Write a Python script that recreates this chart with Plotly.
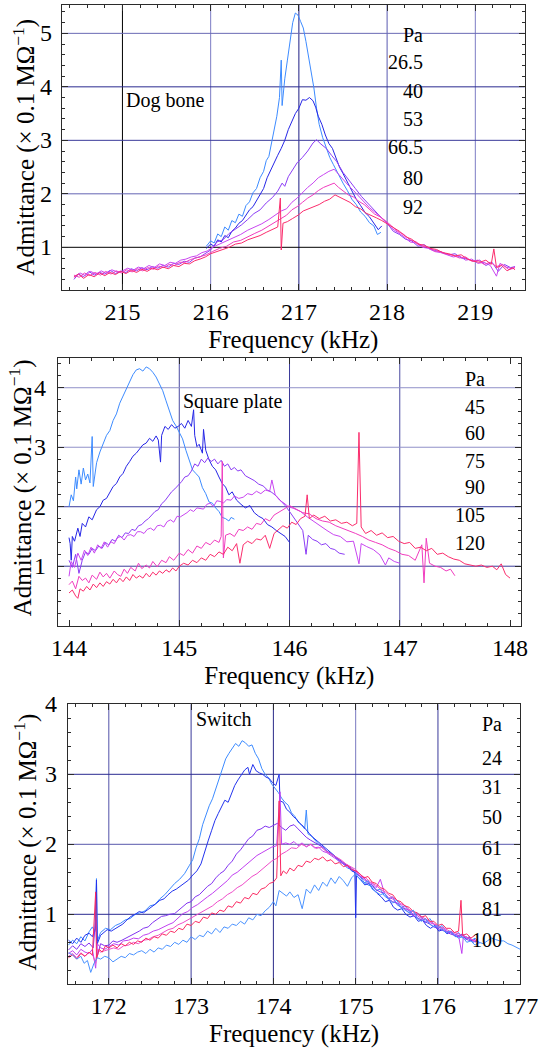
import plotly.graph_objects as go

FONT = "Liberation Serif"

# ---------------- Dog bone resonator ----------------
DOG_PRESSURES = ["26.5", "40", "53", "66.5", "80", "92"]
DOG_26_5 = [(215.95,1.02),(216.0,1.12),(216.04,1.08),(216.08,1.25),(216.12,1.2),(216.16,1.38),(216.2,1.32),(216.24,1.5),(216.28,1.46),(216.32,1.62),(216.36,1.58),(216.4,1.78),(216.44,1.85),(216.48,2.02),(216.52,2.1),(216.56,2.3),(216.6,2.42),(216.63,2.62),(216.66,2.7),(216.69,2.95),(216.72,3.25),(216.75,3.45),(216.78,3.8),(216.8,4.5),(216.81,3.65),(216.84,4.15),(216.87,4.5),(216.9,4.85),(216.93,5.2),(216.96,5.38),(216.99,5.34),(217.02,5.22),(217.05,5.1),(217.08,4.85),(217.11,4.55),(217.14,4.3),(217.17,3.98),(217.2,3.6),(217.23,3.3),(217.27,3.05),(217.31,2.85),(217.35,2.68),(217.39,2.55),(217.44,2.38),(217.5,2.2),(217.55,2.06),(217.6,1.9),(217.65,1.8),(217.7,1.66),(217.75,1.58),(217.8,1.46),(217.85,1.4),(217.89,1.24),(217.93,1.28)]
DOG_40 = [(215.95,0.98),(216.0,1.06),(216.04,1.02),(216.08,1.14),(216.12,1.1),(216.16,1.22),(216.2,1.18),(216.24,1.3),(216.28,1.36),(216.32,1.45),(216.36,1.5),(216.4,1.6),(216.44,1.7),(216.48,1.76),(216.52,1.88),(216.56,2.0),(216.6,2.1),(216.64,2.3),(216.68,2.45),(216.72,2.6),(216.76,2.72),(216.8,2.85),(216.84,3.0),(216.88,3.2),(216.92,3.35),(216.96,3.5),(217.0,3.6),(217.04,3.76),(217.08,3.75),(217.12,3.8),(217.16,3.74),(217.19,3.62),(217.22,3.45),(217.26,3.3),(217.3,3.1),(217.34,2.94),(217.38,2.85),(217.42,2.66),(217.46,2.5),(217.5,2.38),(217.55,2.22),(217.6,2.05),(217.65,1.9),(217.7,1.78),(217.75,1.65),(217.8,1.57),(217.85,1.46),(217.9,1.33),(217.94,1.4)]
DOG_53 = [(214.45,0.40),(214.5,0.50),(214.56,0.45),(214.62,0.55),(214.68,0.48),(214.74,0.53),(214.8,0.50),(214.86,0.57),(214.92,0.51),(214.98,0.55),(215.04,0.53),(215.1,0.60),(215.16,0.56),(215.22,0.62),(215.28,0.58),(215.34,0.64),(215.4,0.61),(215.46,0.66),(215.52,0.63),(215.58,0.70),(215.64,0.68),(215.7,0.74),(215.76,0.72),(215.82,0.80),(215.88,0.82),(215.94,0.88),(216.0,0.95),(216.07,1.10),(216.14,1.14),(216.21,1.26),(216.28,1.34),(216.35,1.42),(216.42,1.52),(216.49,1.63),(216.56,1.70),(216.63,1.83),(216.7,1.93),(216.76,2.05),(216.81,2.20),(216.84,2.14),(216.88,2.32),(216.93,2.45),(216.98,2.58),(217.04,2.68),(217.1,2.80),(217.16,2.95),(217.2,3.01),(217.25,2.93),(217.31,2.85),(217.37,2.72),(217.43,2.60),(217.5,2.40),(217.57,2.26),(217.64,2.10),(217.71,1.95),(217.78,1.82),(217.85,1.70),(217.92,1.58),(218.0,1.45),(218.07,1.30),(218.14,1.24),(218.21,1.15),(218.28,1.12),(218.35,1.02),(218.42,1.05),(218.49,0.96),(218.56,0.94),(218.63,0.90),(218.7,0.86),(218.77,0.88),(218.84,0.80),(218.91,0.78),(218.98,0.74),(219.05,0.76),(219.12,0.66),(219.19,0.72),(219.26,0.55),(219.33,0.68),(219.4,0.62),(219.45,0.64)]
DOG_66_5 = [(214.45,0.45),(214.52,0.52),(214.58,0.47),(214.64,0.55),(214.7,0.50),(214.76,0.56),(214.82,0.51),(214.88,0.58),(214.94,0.54),(215.0,0.56),(215.06,0.61),(215.12,0.57),(215.18,0.63),(215.24,0.60),(215.3,0.66),(215.36,0.62),(215.42,0.69),(215.48,0.66),(215.54,0.72),(215.6,0.70),(215.66,0.76),(215.72,0.78),(215.78,0.82),(215.84,0.84),(215.9,0.9),(215.96,0.93),(216.02,1.0),(216.1,1.06),(216.18,1.12),(216.26,1.18),(216.34,1.24),(216.42,1.32),(216.5,1.38),(216.58,1.44),(216.66,1.52),(216.74,1.62),(216.8,1.68),(216.86,1.72),(216.92,1.84),(216.98,1.92),(217.04,2.02),(217.1,2.12),(217.16,2.2),(217.22,2.3),(217.28,2.36),(217.34,2.42),(217.4,2.46),(217.44,2.38),(217.5,2.28),(217.56,2.16),(217.62,2.06),(217.68,1.95),(217.74,1.86),(217.8,1.74),(217.86,1.66),(217.92,1.58),(217.98,1.48),(218.05,1.36),(218.12,1.28),(218.19,1.2),(218.26,1.1),(218.33,1.08),(218.4,1.0),(218.47,0.98),(218.54,0.92),(218.61,0.9),(218.68,0.86),(218.75,0.82),(218.82,0.84),(218.89,0.76),(218.96,0.78),(219.03,0.70),(219.1,0.72),(219.17,0.66),(219.24,0.46),(219.28,0.70),(219.35,0.63),(219.42,0.60),(219.45,0.64)]
DOG_80 = [(214.45,0.48),(214.51,0.44),(214.57,0.52),(214.63,0.47),(214.69,0.53),(214.75,0.48),(214.81,0.55),(214.87,0.50),(214.93,0.56),(214.99,0.52),(215.05,0.58),(215.11,0.54),(215.17,0.60),(215.23,0.56),(215.29,0.62),(215.35,0.59),(215.41,0.65),(215.47,0.62),(215.53,0.68),(215.59,0.66),(215.65,0.72),(215.71,0.72),(215.77,0.77),(215.83,0.80),(215.89,0.84),(215.95,0.86),(216.02,0.92),(216.1,0.98),(216.18,1.02),(216.26,1.1),(216.34,1.13),(216.42,1.2),(216.5,1.26),(216.58,1.32),(216.66,1.4),(216.74,1.48),(216.8,1.55),(216.86,1.6),(216.92,1.7),(216.98,1.76),(217.04,1.84),(217.1,1.92),(217.16,1.98),(217.22,2.06),(217.28,2.12),(217.34,2.16),(217.4,2.2),(217.45,2.12),(217.5,2.06),(217.56,1.98),(217.62,1.94),(217.68,1.86),(217.74,1.8),(217.8,1.7),(217.86,1.62),(217.92,1.57),(217.98,1.5),(218.05,1.4),(218.12,1.3),(218.19,1.24),(218.26,1.14),(218.33,1.1),(218.4,1.02),(218.47,1.0),(218.54,0.93),(218.61,0.92),(218.68,0.87),(218.75,0.85),(218.82,0.8),(218.89,0.82),(218.96,0.74),(219.03,0.76),(219.1,0.68),(219.17,0.72),(219.24,0.64),(219.31,0.68),(219.38,0.58),(219.45,0.62)]
DOG_92 = [(214.45,0.44),(214.5,0.50),(214.56,0.42),(214.62,0.49),(214.68,0.45),(214.74,0.52),(214.8,0.47),(214.86,0.53),(214.92,0.49),(214.98,0.55),(215.04,0.51),(215.1,0.57),(215.16,0.53),(215.22,0.59),(215.28,0.55),(215.34,0.61),(215.4,0.58),(215.46,0.63),(215.52,0.60),(215.58,0.66),(215.64,0.64),(215.7,0.70),(215.76,0.69),(215.82,0.75),(215.88,0.78),(215.94,0.82),(216.0,0.88),(216.07,0.92),(216.14,0.97),(216.21,1.0),(216.28,1.06),(216.35,1.08),(216.42,1.14),(216.49,1.18),(216.56,1.22),(216.63,1.28),(216.7,1.33),(216.76,1.38),(216.79,1.92),(216.8,0.95),(216.82,1.45),(216.87,1.48),(216.93,1.54),(216.99,1.6),(217.05,1.68),(217.11,1.72),(217.17,1.76),(217.23,1.8),(217.29,1.86),(217.35,1.9),(217.41,1.98),(217.46,1.94),(217.52,1.88),(217.58,1.84),(217.64,1.76),(217.7,1.72),(217.76,1.64),(217.82,1.6),(217.88,1.55),(217.94,1.5),(218.0,1.44),(218.07,1.36),(218.14,1.3),(218.21,1.2),(218.28,1.15),(218.35,1.06),(218.42,1.04),(218.49,0.98),(218.56,0.96),(218.63,0.9),(218.7,0.88),(218.77,0.84),(218.84,0.86),(218.91,0.78),(218.98,0.74),(219.05,0.72),(219.12,0.76),(219.18,0.68),(219.21,0.97),(219.24,0.62),(219.3,0.66),(219.36,0.56),(219.42,0.62),(219.45,0.58)]

# ---------------- Square plate resonator ----------------
SQ_PRESSURES = ["45", "60", "75", "90", "105", "120"]
SQ_45 = [(144.0,2.0),(144.02,2.2),(144.04,2.1),(144.06,2.5),(144.07,2.3),(144.09,2.62),(144.11,2.38),(144.13,2.65),(144.15,2.45),(144.17,2.55),(144.19,2.4),(144.21,3.18),(144.22,2.34),(144.25,2.74),(144.28,2.92),(144.31,3.05),(144.34,3.2),(144.37,3.28),(144.4,3.45),(144.43,3.56),(144.46,3.74),(144.49,3.86),(144.52,3.98),(144.55,4.12),(144.58,4.22),(144.61,4.3),(144.64,4.32),(144.67,4.28),(144.7,4.35),(144.73,4.32),(144.76,4.26),(144.79,4.18),(144.82,4.06),(144.85,3.95),(144.88,3.78),(144.91,3.62),(144.94,3.45),(144.97,3.36),(145.0,3.25),(145.03,3.14),(145.06,2.95),(145.09,2.78),(145.12,2.62),(145.15,2.56),(145.18,2.5),(145.21,2.32),(145.24,2.22),(145.27,2.08),(145.3,2.06),(145.33,1.98),(145.36,1.92),(145.39,1.82),(145.42,1.8),(145.45,1.76),(145.47,1.82),(145.5,1.79)]
SQ_60 = [(144.0,1.48),(144.01,1.38),(144.02,1.1),(144.03,1.5),(144.05,1.42),(144.08,1.64),(144.1,1.5),(144.12,1.72),(144.15,1.66),(144.18,1.83),(144.21,1.78),(144.25,1.95),(144.28,2.0),(144.31,2.11),(144.34,2.14),(144.37,2.25),(144.4,2.34),(144.43,2.39),(144.46,2.5),(144.49,2.56),(144.52,2.68),(144.55,2.76),(144.58,2.85),(144.61,2.9),(144.64,2.98),(144.67,3.04),(144.7,3.07),(144.73,3.15),(144.76,3.1),(144.79,3.19),(144.81,3.12),(144.83,2.75),(144.84,3.2),(144.87,3.35),(144.9,3.3),(144.93,3.38),(144.96,3.32),(144.99,3.35),(145.02,3.4),(145.05,3.32),(145.08,3.45),(145.11,3.35),(145.13,3.63),(145.14,3.2),(145.16,3.01),(145.18,3.05),(145.21,2.9),(145.22,3.3),(145.24,2.95),(145.27,2.79),(145.3,2.68),(145.33,2.62),(145.36,2.5),(145.39,2.39),(145.42,2.33),(145.45,2.2),(145.48,2.25),(145.52,2.11),(145.56,2.04),(145.6,1.98),(145.64,2.02),(145.68,1.9),(145.72,1.84),(145.76,1.8),(145.8,1.7),(145.84,1.66),(145.88,1.6),(145.92,1.55),(145.96,1.5),(146.0,1.4)]
SQ_75 = [(144.0,1.1),(144.03,0.98),(144.06,1.2),(144.09,0.88),(144.12,1.1),(144.15,1.24),(144.18,1.2),(144.21,1.3),(144.24,1.26),(144.27,1.34),(144.3,1.3),(144.33,1.4),(144.36,1.36),(144.39,1.45),(144.42,1.42),(144.45,1.52),(144.48,1.48),(144.51,1.56),(144.54,1.55),(144.57,1.62),(144.6,1.6),(144.63,1.68),(144.66,1.7),(144.69,1.76),(144.72,1.8),(144.75,1.86),(144.78,1.92),(144.81,1.95),(144.84,2.05),(144.87,2.1),(144.9,2.18),(144.93,2.25),(144.96,2.3),(144.99,2.36),(145.02,2.42),(145.05,2.5),(145.08,2.52),(145.11,2.6),(145.14,2.72),(145.17,2.68),(145.2,2.8),(145.23,2.74),(145.26,2.82),(145.29,2.76),(145.32,2.8),(145.35,2.72),(145.38,2.78),(145.41,2.68),(145.44,2.72),(145.47,2.62),(145.5,2.66),(145.53,2.6),(145.56,2.62),(145.6,2.52),(145.64,2.48),(145.68,2.44),(145.72,2.38),(145.76,2.35),(145.8,2.28),(145.84,2.24),(145.88,2.18),(145.92,2.1),(145.96,2.02),(146.0,1.92),(146.04,1.82),(146.08,1.7),(146.12,1.6),(146.15,1.2),(146.17,1.52),(146.21,1.45),(146.25,1.42),(146.29,1.36),(146.33,1.38),(146.37,1.3),(146.41,1.28),(146.45,1.22),(146.5,1.2)]
SQ_90 = [(144.0,0.83),(144.02,1.08),(144.05,0.98),(144.08,1.22),(144.11,1.1),(144.14,1.27),(144.17,1.18),(144.2,1.32),(144.23,1.22),(144.26,1.36),(144.29,1.3),(144.32,1.41),(144.35,1.32),(144.38,1.41),(144.41,1.38),(144.44,1.48),(144.47,1.5),(144.5,1.44),(144.53,1.52),(144.56,1.53),(144.59,1.5),(144.62,1.58),(144.65,1.58),(144.68,1.55),(144.71,1.62),(144.74,1.64),(144.77,1.6),(144.8,1.68),(144.83,1.69),(144.86,1.66),(144.89,1.75),(144.92,1.78),(144.95,1.74),(144.98,1.84),(145.01,1.83),(145.04,1.86),(145.07,1.9),(145.1,1.95),(145.13,1.92),(145.16,1.98),(145.19,1.97),(145.22,1.96),(145.25,2.04),(145.28,2.06),(145.31,2.0),(145.34,2.1),(145.37,2.09),(145.4,2.06),(145.43,2.12),(145.47,2.11),(145.5,2.18),(145.54,2.14),(145.58,2.16),(145.62,2.22),(145.66,2.2),(145.7,2.26),(145.74,2.22),(145.78,2.28),(145.82,2.26),(145.84,2.45),(145.87,2.2),(145.91,2.11),(145.95,2.06),(145.99,2.0),(146.04,1.97),(146.1,1.92),(146.16,1.83),(146.22,1.75),(146.28,1.67),(146.34,1.6),(146.4,1.53),(146.46,1.5),(146.52,1.41),(146.58,1.42),(146.63,1.04),(146.65,1.38),(146.7,1.33),(146.76,1.28),(146.82,1.19),(146.87,1.02),(146.9,1.14),(146.95,1.08),(147.0,1.05)]
SQ_105 = [(144.0,0.69),(144.03,0.75),(144.06,0.62),(144.09,0.83),(144.12,0.76),(144.15,0.8),(144.18,0.72),(144.21,0.85),(144.25,0.78),(144.28,0.9),(144.31,0.82),(144.34,0.88),(144.37,0.8),(144.41,0.92),(144.44,0.86),(144.47,0.83),(144.5,0.95),(144.53,0.88),(144.56,0.98),(144.6,0.92),(144.63,1.05),(144.66,0.96),(144.7,1.02),(144.73,0.97),(144.76,1.08),(144.8,0.99),(144.84,1.1),(144.88,1.06),(144.91,1.16),(144.95,1.1),(145.0,1.22),(145.04,1.18),(145.08,1.28),(145.12,1.22),(145.16,1.34),(145.2,1.3),(145.24,1.4),(145.28,1.36),(145.32,1.44),(145.36,1.4),(145.38,1.5),(145.39,2.76),(145.4,1.14),(145.42,1.52),(145.46,1.55),(145.5,1.5),(145.54,1.62),(145.58,1.6),(145.62,1.66),(145.66,1.62),(145.7,1.72),(145.74,1.7),(145.78,1.8),(145.82,1.76),(145.86,1.86),(145.9,1.9),(145.95,1.96),(146.0,2.02),(146.06,1.96),(146.12,1.9),(146.18,1.88),(146.24,1.8),(146.3,1.76),(146.36,1.74),(146.42,1.68),(146.48,1.64),(146.54,1.6),(146.6,1.55),(146.66,1.5),(146.72,1.44),(146.78,1.4),(146.84,1.36),(146.9,1.3),(146.96,1.26),(147.02,1.2),(147.08,1.18),(147.14,1.1),(147.2,1.36),(147.22,0.72),(147.24,1.47),(147.27,1.05),(147.32,1.0),(147.37,0.98),(147.42,0.92),(147.46,0.95),(147.5,0.84)]
SQ_120 = [(144.0,0.55),(144.03,0.6),(144.06,0.5),(144.08,0.46),(144.1,0.62),(144.13,0.58),(144.16,0.66),(144.19,0.6),(144.22,0.7),(144.25,0.64),(144.28,0.72),(144.31,0.66),(144.34,0.74),(144.37,0.7),(144.4,0.78),(144.43,0.72),(144.46,0.8),(144.49,0.74),(144.52,0.82),(144.55,0.76),(144.58,0.86),(144.61,0.8),(144.64,0.84),(144.67,0.8),(144.7,0.88),(144.73,0.82),(144.76,0.9),(144.79,0.85),(144.82,0.92),(144.85,0.88),(144.88,0.94),(144.91,0.9),(144.94,0.97),(144.97,0.92),(145.0,1.0),(145.04,1.05),(145.08,1.02),(145.12,1.1),(145.16,1.06),(145.2,1.14),(145.24,1.1),(145.28,1.2),(145.32,1.16),(145.36,1.24),(145.4,1.2),(145.44,1.32),(145.48,1.26),(145.52,1.38),(145.55,1.05),(145.58,1.36),(145.62,1.42),(145.66,1.38),(145.7,1.46),(145.74,1.44),(145.78,1.52),(145.82,1.3),(145.86,1.55),(145.9,1.62),(145.94,1.68),(145.98,1.64),(146.02,1.74),(146.06,1.7),(146.1,1.8),(146.14,1.84),(146.16,2.2),(146.18,1.8),(146.22,1.86),(146.27,1.8),(146.32,1.84),(146.37,1.76),(146.42,1.78),(146.47,1.72),(146.52,1.74),(146.57,1.68),(146.61,1.72),(146.63,3.25),(146.65,1.66),(146.69,1.55),(146.74,1.6),(146.79,1.52),(146.84,1.56),(146.89,1.48),(146.94,1.5),(146.99,1.42),(147.04,1.38),(147.09,1.4),(147.14,1.3),(147.19,1.32),(147.24,1.26),(147.29,1.3),(147.34,1.2),(147.39,1.22),(147.44,1.16),(147.49,1.12),(147.54,1.1),(147.59,1.04),(147.64,1.02),(147.69,1.0),(147.74,1.02),(147.79,0.98),(147.84,1.0),(147.88,0.94),(147.92,1.04),(147.96,0.86),(148.0,0.8)]

# ---------------- Switch resonator ----------------
SW_PRESSURES = ["24", "31", "50", "61", "68", "81", "100"]
SW_24 = [(171.51,0.56),(171.56,0.63),(171.61,0.58),(171.66,0.68),(171.71,0.62),(171.76,0.75),(171.8,0.82),(171.83,0.75),(171.85,1.51),(171.86,0.62),(171.9,0.74),(171.96,0.8),(172.02,0.78),(172.08,0.84),(172.14,0.87),(172.2,0.92),(172.26,0.94),(172.32,1.0),(172.38,1.02),(172.44,1.05),(172.5,1.12),(172.56,1.14),(172.62,1.22),(172.68,1.28),(172.74,1.36),(172.8,1.44),(172.86,1.5),(172.92,1.58),(172.98,1.7),(173.02,1.78),(173.06,1.95),(173.1,2.08),(173.14,2.28),(173.18,2.42),(173.22,2.55),(173.26,2.65),(173.3,2.8),(173.34,2.92),(173.38,3.08),(173.42,3.22),(173.46,3.3),(173.5,3.38),(173.54,3.44),(173.58,3.4),(173.62,3.48),(173.66,3.45),(173.7,3.4),(173.74,3.42),(173.78,3.3),(173.82,3.22),(173.86,3.08),(173.9,3.0),(173.94,2.95),(173.98,2.86),(174.02,2.8),(174.06,2.74),(174.1,2.66),(174.14,2.6),(174.18,2.56),(174.22,2.45),(174.26,2.4),(174.3,2.32),(174.34,2.28),(174.38,2.22),(174.4,2.49),(174.42,2.15),(174.46,2.12),(174.5,2.06),(174.55,2.0),(174.6,1.96),(174.65,1.9),(174.7,1.86),(174.75,1.82),(174.8,1.75),(174.85,1.72),(174.9,1.66),(174.95,1.64),(175.0,1.58),(175.05,1.55),(175.1,1.46),(175.15,1.42),(175.2,1.4),(175.25,1.34),(175.3,1.36),(175.35,1.26),(175.4,1.22),(175.45,1.25),(175.5,1.14),(175.55,1.1),(175.6,1.12),(175.65,1.04),(175.7,1.0),(175.75,1.02),(175.8,0.96),(175.85,0.88),(175.9,0.94),(175.95,0.86),(176.0,0.8),(176.05,0.84),(176.1,0.76),(176.15,0.74),(176.2,0.7),(176.25,0.74),(176.3,0.66),(176.35,0.68),(176.4,0.62),(176.45,0.66),(176.5,0.6)]
SW_31 = [(171.51,0.63),(171.56,0.58),(171.61,0.66),(171.66,0.6),(171.71,0.7),(171.76,0.73),(171.8,0.68),(171.84,0.8),(171.85,1.49),(171.86,0.58),(171.9,0.7),(171.94,0.74),(171.98,0.78),(172.03,0.76),(172.08,0.8),(172.12,0.82),(172.17,0.86),(172.22,0.92),(172.27,0.97),(172.32,1.0),(172.37,1.04),(172.42,1.02),(172.47,1.06),(172.52,1.1),(172.57,1.15),(172.62,1.2),(172.67,1.22),(172.72,1.28),(172.77,1.33),(172.82,1.36),(172.87,1.4),(172.92,1.44),(172.97,1.49),(173.02,1.56),(173.07,1.62),(173.12,1.72),(173.17,1.92),(173.21,2.06),(173.25,2.2),(173.29,2.34),(173.33,2.44),(173.37,2.54),(173.41,2.63),(173.45,2.6),(173.49,2.73),(173.53,2.84),(173.57,2.92),(173.61,3.0),(173.65,3.06),(173.69,3.1),(173.71,3.0),(173.75,3.14),(173.79,3.05),(173.83,3.02),(173.87,3.0),(173.91,2.96),(173.95,2.94),(173.99,2.88),(174.03,2.84),(174.07,3.0),(174.08,2.62),(174.12,2.6),(174.16,2.5),(174.2,2.46),(174.24,2.4),(174.28,2.36),(174.32,2.3),(174.36,2.26),(174.4,2.2),(174.44,2.15),(174.48,2.1),(174.52,2.06),(174.56,2.02),(174.6,1.98),(174.65,1.93),(174.7,1.88),(174.75,1.84),(174.8,1.78),(174.85,1.72),(174.9,1.7),(174.95,1.62),(174.99,1.6),(175.0,0.95),(175.01,1.55),(175.06,1.5),(175.11,1.42),(175.16,1.44),(175.21,1.36),(175.26,1.3),(175.31,1.25),(175.36,1.18),(175.41,1.2),(175.46,1.1),(175.51,1.06),(175.56,1.08),(175.61,1.0),(175.66,0.96),(175.71,0.98),(175.76,0.9),(175.81,0.92),(175.86,0.84),(175.91,0.8),(175.96,0.84),(176.01,0.76),(176.06,0.78),(176.11,0.72),(176.16,0.76),(176.21,0.68),(176.26,0.7),(176.3,0.72),(176.34,0.64),(176.38,0.68),(176.42,0.6),(176.47,0.62)]
SW_50 = [(171.51,0.49),(171.56,0.55),(171.61,0.5),(171.66,0.58),(171.71,0.54),(171.76,0.59),(171.81,0.52),(171.84,0.92),(171.86,0.4),(171.9,0.58),(171.95,0.55),(172.0,0.56),(172.05,0.62),(172.1,0.6),(172.16,0.63),(172.21,0.66),(172.26,0.7),(172.32,0.73),(172.37,0.76),(172.42,0.8),(172.48,0.82),(172.53,0.88),(172.58,0.92),(172.64,0.97),(172.69,0.98),(172.74,1.0),(172.8,1.01),(172.85,1.06),(172.9,1.1),(172.95,1.16),(173.0,1.18),(173.05,1.25),(173.1,1.28),(173.15,1.34),(173.2,1.4),(173.25,1.44),(173.3,1.52),(173.35,1.58),(173.4,1.62),(173.45,1.7),(173.5,1.76),(173.55,1.86),(173.6,1.92),(173.65,2.0),(173.7,2.08),(173.75,2.12),(173.8,2.2),(173.85,2.22),(173.9,2.26),(173.95,2.24),(174.0,2.27),(174.05,2.3),(174.1,2.24),(174.15,2.2),(174.2,2.26),(174.25,2.28),(174.3,2.22),(174.35,2.16),(174.4,2.1),(174.45,2.06),(174.5,2.03),(174.55,2.0),(174.6,1.96),(174.65,1.9),(174.7,1.87),(174.75,1.82),(174.8,1.78),(174.85,1.73),(174.9,1.7),(174.95,1.66),(175.0,1.6),(175.05,1.54),(175.1,1.5),(175.15,1.44),(175.2,1.42),(175.25,1.35),(175.3,1.32),(175.35,1.3),(175.4,1.22),(175.45,1.18),(175.5,1.16),(175.55,1.1),(175.6,1.08),(175.65,1.02),(175.7,0.98),(175.75,0.95),(175.8,0.92),(175.85,0.9),(175.9,0.86),(175.95,0.82),(176.0,0.8),(176.05,0.78),(176.1,0.75),(176.15,0.72),(176.2,0.7),(176.25,0.68),(176.3,0.7),(176.35,0.64),(176.4,0.62),(176.45,0.64),(176.5,0.58)]
SW_61 = [(171.51,0.44),(171.56,0.48),(171.61,0.42),(171.66,0.5),(171.71,0.46),(171.76,0.44),(171.8,0.5),(171.84,0.23),(171.86,0.58),(171.9,0.52),(171.95,0.5),(172.0,0.54),(172.06,0.58),(172.12,0.56),(172.18,0.62),(172.24,0.63),(172.3,0.66),(172.36,0.65),(172.42,0.7),(172.48,0.72),(172.54,0.76),(172.6,0.78),(172.66,0.82),(172.72,0.85),(172.78,0.88),(172.84,0.95),(172.9,1.01),(172.96,1.04),(173.02,1.1),(173.08,1.14),(173.14,1.2),(173.2,1.25),(173.26,1.3),(173.32,1.36),(173.38,1.42),(173.44,1.48),(173.5,1.56),(173.56,1.6),(173.62,1.66),(173.68,1.72),(173.74,1.78),(173.8,1.84),(173.86,1.88),(173.92,1.92),(173.98,1.96),(174.04,1.98),(174.08,2.75),(174.1,2.0),(174.15,2.02),(174.2,2.0),(174.25,2.04),(174.3,1.98),(174.35,2.02),(174.4,1.96),(174.45,2.0),(174.5,1.95),(174.55,1.96),(174.6,1.9),(174.65,1.88),(174.7,1.84),(174.75,1.8),(174.8,1.76),(174.85,1.72),(174.9,1.68),(174.95,1.64),(175.0,1.62),(175.05,1.55),(175.1,1.52),(175.15,1.46),(175.2,1.44),(175.25,1.38),(175.3,1.5),(175.35,1.3),(175.4,1.24),(175.45,1.22),(175.5,1.16),(175.55,1.14),(175.6,1.08),(175.65,1.06),(175.7,1.0),(175.75,0.98),(175.8,0.94),(175.85,0.92),(175.9,0.88),(175.95,0.86),(176.0,0.82),(176.05,0.8),(176.1,0.76),(176.15,0.74),(176.2,0.72),(176.25,0.7),(176.29,0.44),(176.31,0.7),(176.36,0.66),(176.41,0.64),(176.46,0.6)]
SW_68 = [(171.51,0.4),(171.56,0.44),(171.61,0.38),(171.66,0.45),(171.71,0.4),(171.76,0.46),(171.81,0.4),(171.84,0.3),(171.86,0.5),(171.9,0.46),(171.95,0.48),(172.0,0.5),(172.06,0.52),(172.12,0.5),(172.18,0.55),(172.24,0.56),(172.3,0.6),(172.36,0.58),(172.42,0.63),(172.48,0.64),(172.54,0.68),(172.6,0.7),(172.66,0.74),(172.72,0.78),(172.78,0.8),(172.84,0.85),(172.9,0.88),(172.96,0.92),(173.02,0.95),(173.08,1.0),(173.14,1.03),(173.2,1.08),(173.26,1.12),(173.32,1.18),(173.38,1.22),(173.44,1.28),(173.5,1.32),(173.56,1.38),(173.62,1.42),(173.68,1.48),(173.74,1.54),(173.8,1.58),(173.86,1.64),(173.92,1.7),(173.98,1.76),(174.04,1.8),(174.1,1.86),(174.16,1.9),(174.22,1.95),(174.28,1.94),(174.34,2.0),(174.4,1.97),(174.46,2.0),(174.52,1.94),(174.58,1.96),(174.64,1.9),(174.7,1.86),(174.76,1.82),(174.82,1.78),(174.88,1.72),(174.94,1.68),(175.0,1.64),(175.06,1.56),(175.12,1.52),(175.18,1.46),(175.24,1.42),(175.3,1.36),(175.36,1.32),(175.42,1.26),(175.48,1.22),(175.54,1.16),(175.6,1.12),(175.66,1.06),(175.72,1.02),(175.78,0.98),(175.84,0.94),(175.9,0.9),(175.96,0.86),(176.02,0.82),(176.08,0.8),(176.14,0.76),(176.2,0.74),(176.26,0.72),(176.32,0.68),(176.38,0.66),(176.44,0.62),(176.48,0.64)]
SW_81 = [(171.51,0.38),(171.56,0.42),(171.61,0.36),(171.66,0.44),(171.71,0.4),(171.76,0.46),(171.8,0.42),(171.84,1.32),(171.85,0.35),(171.88,0.5),(171.92,0.46),(171.96,0.55),(172.0,0.52),(172.05,0.56),(172.1,0.52),(172.15,0.58),(172.2,0.55),(172.25,0.6),(172.3,0.57),(172.35,0.62),(172.4,0.6),(172.45,0.66),(172.5,0.63),(172.55,0.68),(172.6,0.66),(172.65,0.72),(172.7,0.7),(172.75,0.76),(172.8,0.74),(172.85,0.8),(172.9,0.78),(172.95,0.86),(173.0,0.84),(173.05,0.9),(173.1,0.88),(173.15,0.96),(173.2,0.94),(173.25,1.02),(173.3,1.0),(173.35,1.06),(173.4,1.04),(173.45,1.12),(173.5,1.1),(173.55,1.18),(173.6,1.16),(173.65,1.24),(173.7,1.22),(173.75,1.3),(173.8,1.28),(173.85,1.36),(173.9,1.38),(173.95,1.44),(174.0,1.46),(174.04,1.52),(174.07,2.62),(174.09,1.55),(174.12,1.62),(174.16,1.58),(174.2,1.66),(174.25,1.62),(174.3,1.7),(174.35,1.68),(174.4,1.76),(174.45,1.74),(174.5,1.8),(174.55,1.78),(174.6,1.82),(174.65,1.76),(174.7,1.78),(174.75,1.72),(174.8,1.74),(174.85,1.68),(174.9,1.7),(174.95,1.64),(175.0,1.62),(175.05,1.58),(175.1,1.52),(175.15,1.54),(175.2,1.46),(175.25,1.44),(175.3,1.38),(175.35,1.36),(175.4,1.3),(175.45,1.28),(175.5,1.2),(175.55,1.18),(175.6,1.12),(175.65,1.1),(175.7,1.04),(175.75,1.02),(175.8,0.96),(175.85,0.98),(175.9,0.9),(175.95,0.9),(176.0,0.84),(176.05,0.86),(176.1,0.8),(176.15,0.8),(176.2,0.74),(176.25,0.76),(176.28,1.2),(176.3,0.7),(176.35,0.72),(176.4,0.66),(176.45,0.7)]
SW_100 = [(171.51,0.45),(171.56,0.42),(171.61,0.36),(171.66,0.4),(171.7,0.3),(171.74,0.34),(171.78,0.17),(171.82,0.3),(171.86,0.38),(171.9,0.36),(171.95,0.4),(172.0,0.38),(172.05,0.32),(172.1,0.36),(172.15,0.4),(172.2,0.38),(172.25,0.44),(172.3,0.42),(172.35,0.46),(172.4,0.48),(172.45,0.44),(172.5,0.5),(172.55,0.46),(172.6,0.52),(172.65,0.5),(172.7,0.56),(172.75,0.54),(172.8,0.6),(172.85,0.57),(172.9,0.63),(172.95,0.6),(173.0,0.68),(173.05,0.64),(173.1,0.7),(173.15,0.68),(173.2,0.76),(173.25,0.72),(173.3,0.8),(173.35,0.74),(173.4,0.82),(173.45,0.8),(173.5,0.86),(173.55,0.84),(173.6,0.9),(173.65,0.86),(173.7,0.95),(173.75,0.92),(173.8,1.0),(173.85,0.98),(173.9,1.05),(173.95,1.1),(174.0,1.18),(174.03,1.12),(174.07,1.34),(174.12,1.3),(174.16,1.26),(174.2,1.32),(174.25,1.24),(174.3,1.28),(174.35,1.08),(174.4,1.36),(174.45,1.3),(174.5,1.42),(174.55,1.34),(174.6,1.46),(174.65,1.4),(174.7,1.52),(174.75,1.44),(174.8,1.54),(174.85,1.48),(174.9,1.4),(174.95,1.52),(175.0,1.58),(175.05,1.5),(175.1,1.44),(175.15,1.48),(175.2,1.36),(175.25,1.32),(175.3,1.28),(175.35,1.3),(175.4,1.22),(175.45,1.16),(175.5,1.2),(175.55,1.1),(175.6,1.06),(175.65,1.02),(175.7,1.06),(175.75,0.94),(175.8,0.9),(175.85,0.94),(175.9,0.86),(175.95,0.82),(176.0,0.84),(176.05,0.78),(176.1,0.74),(176.15,0.76),(176.2,0.7),(176.25,0.66),(176.3,0.68),(176.35,0.6),(176.4,0.62),(176.45,0.56),(176.5,0.6),(176.55,0.58),(176.6,0.62),(176.65,0.66),(176.7,0.64),(176.75,0.62),(176.8,0.62),(176.85,0.58),(176.9,0.56),(176.95,0.53),(177.0,0.5)]

# Axis ticks
DOG_XTICKS = [215, 216, 217, 218, 219]
DOG_YTICKS = [1, 2, 3, 4, 5]
SQ_XTICKS = [144, 145, 146, 147, 148]
SQ_YTICKS = [1, 2, 3, 4]
SW_XTICKS = [172, 173, 174, 175, 176, 177]
SW_YTICKS = [1, 2, 3, 4]

LIGHT_BLUE = "#3d8bff"
BLUE = "#2626e6"
VIOLET = "#8b3cf5"
MAGENTA = "#c846f0"
PINK = "#f03cbe"
RED = "#fa2c6c"

YTITLE = "Admittance (× 0.1 MΩ<sup>−1</sup>)"
XTITLE = "Frequency (kHz)"

panels = [
    dict(name="Dog bone", curves=[DOG_26_5, DOG_40, DOG_53, DOG_66_5, DOG_80, DOG_92],
         labels=DOG_PRESSURES, colors=[LIGHT_BLUE, BLUE, VIOLET, MAGENTA, PINK, RED],
         xr=[214.316, 219.56], yr=[0.202, 5.53], xticks=DOG_XTICKS, yticks=DOG_YTICKS,
         xdom=[0.1148, 0.9699], ydom=[0.72564, 0.99527],
         vgrid={215: "#000000", 216: "#7c7cc4", 217: "#1c1c84", 218: "#5a5ab0", 219: "#7c7cc4"},
         hgrid={1: "#000000", 2: "#6464b4", 3: "#3a3a9a", 4: "#2a2a90", 5: "#6a6ab4"},
         name_pos=(215.02, 3.75), leg_x=218.43,
         leg_y=[4.97, 4.46, 3.92, 3.40, 2.88, 2.30, 1.76],
         ylab_x=0.1007, ytitle=(0.0447, 0.8605)),
    dict(name="Square plate", curves=[SQ_45, SQ_60, SQ_75, SQ_90, SQ_105, SQ_120],
         labels=SQ_PRESSURES, colors=[LIGHT_BLUE, BLUE, VIOLET, MAGENTA, PINK, RED],
         xr=[143.9, 148.096], yr=[0.0, 4.5], xticks=SQ_XTICKS, yticks=SQ_YTICKS,
         xdom=[0.1072, 0.9623], ydom=[0.40804, 0.66130],
         vgrid={145: "#4a4aa0", 146: "#3a3a9a", 147: "#4a4aa0"},
         hgrid={1: "#3a3a9a", 2: "#3a3a9a", 3: "#9090c8", 4: "#9090c8"},
         name_pos=(145.02, 3.765), leg_x=147.79,
         leg_y=[4.146, 3.68, 3.234, 2.768, 2.326, 1.86, 1.395],
         ylab_x=0.0893, ytitle=(0.0383, 0.5388)),
    dict(name="Switch", curves=[SW_24, SW_31, SW_50, SW_61, SW_68, SW_81, SW_100],
         labels=SW_PRESSURES,
         colors=[LIGHT_BLUE, "#2233ee", "#8232f0", "#c040f0", "#ee4cc8", "#fa2a62", "#4a92ff"],
         xr=[171.5, 177.003], yr=[0.0, 4.0], xticks=SW_XTICKS, yticks=SW_YTICKS,
         xdom=[0.1251, 0.9621], ydom=[0.06878, 0.33368],
         vgrid={172: "#5050a8", 173: "#3a3a9a", 174: "#2a2a88", 175: "#7878c0", 176: "#3a3a9a"},
         hgrid={1: "#2a2a90", 2: "#5858ac", 3: "#2a2a90"},
         name_pos=(173.03, 3.786), leg_x=176.80,
         leg_y=[3.714, 3.229, 2.823, 2.386, 1.943, 1.5, 1.071, 0.633],
         ylab_x=0.1085, ytitle=(0.0479, 0.2037)),
]

fig = go.Figure()
shapes = []
annotations = []
axes = {}

for i, p in enumerate(panels, start=1):
    sfx = "" if i == 1 else str(i)
    xa, ya = "x" + sfx, "y" + sfx
    for pts, color, lab in zip(p["curves"], p["colors"], p["labels"]):
        fig.add_trace(go.Scatter(
            x=[a for a, _ in pts], y=[b for _, b in pts], mode="lines",
            line=dict(color=color, width=1), name=lab + " Pa",
            xaxis=xa, yaxis=ya, showlegend=False))

    tick_font = dict(family=FONT, size=24, color="black")
    title_font = dict(family=FONT, size=25, color="black")
    axis_base = dict(showline=True, linecolor="#2b2b2b", linewidth=1, mirror="allticks",
                     ticks="inside", ticklen=6, tickcolor="#2b2b2b", showgrid=False,
                     zeroline=False, tickmode="array", tickfont=tick_font)
    axes["xaxis" + sfx] = dict(axis_base, range=p["xr"], domain=p["xdom"],
                               tickvals=p["xticks"], anchor=ya,
                               title=dict(text=XTITLE, standoff=6, font=title_font),
                               minor=dict(tickmode="linear", tick0=p["xticks"][0], dtick=0.2,
                                          ticks="inside", ticklen=3, tickcolor="#2b2b2b",
                                          showgrid=False))
    # y tick labels are placed as annotations next to the frame (see below)
    axes["yaxis" + sfx] = dict(axis_base, range=p["yr"], domain=p["ydom"],
                               tickvals=p["yticks"], anchor=xa, showticklabels=False,
                               minor=dict(tickmode="linear", tick0=0, dtick=0.2,
                                          ticks="inside", ticklen=3, tickcolor="#2b2b2b",
                                          showgrid=False))

    for xv, col in p["vgrid"].items():
        shapes.append(dict(type="line", xref=xa, yref=ya + " domain", x0=xv, x1=xv, y0=0, y1=1,
                           line=dict(color=col, width=1), layer="below"))
    for yv, col in p["hgrid"].items():
        shapes.append(dict(type="line", xref=xa + " domain", yref=ya, x0=0, x1=1, y0=yv, y1=yv,
                           line=dict(color=col, width=1), layer="below"))

    for yv in p["yticks"]:
        annotations.append(dict(text=str(yv), x=p["ylab_x"], y=yv, xref="paper", yref=ya,
                                xanchor="right", yanchor="middle", showarrow=False,
                                font=tick_font))
    annotations.append(dict(text=YTITLE, x=p["ytitle"][0], y=p["ytitle"][1], textangle=-90,
                            xref="paper", yref="paper", xanchor="center", yanchor="middle",
                            showarrow=False, font=title_font))

    annotations.append(dict(text=p["name"], x=p["name_pos"][0], y=p["name_pos"][1],
                            xref=xa, yref=ya, xanchor="left", yanchor="middle",
                            showarrow=False, font=dict(family=FONT, size=20, color="black")))
    for lab, yv in zip(["Pa"] + p["labels"], p["leg_y"]):
        annotations.append(dict(text=lab, x=p["leg_x"], y=yv, xref=xa, yref=ya,
                                xanchor="right", yanchor="middle", showarrow=False,
                                font=dict(family=FONT, size=20, color="black")))

fig.update_layout(template="none", width=541, height=1057,
                  margin=dict(l=0, r=0, t=0, b=0),
                  font=dict(family=FONT, color="black"),
                  paper_bgcolor="white", plot_bgcolor="white",
                  shapes=shapes, annotations=annotations, showlegend=False, **axes)

fig.write_html("out.html")
